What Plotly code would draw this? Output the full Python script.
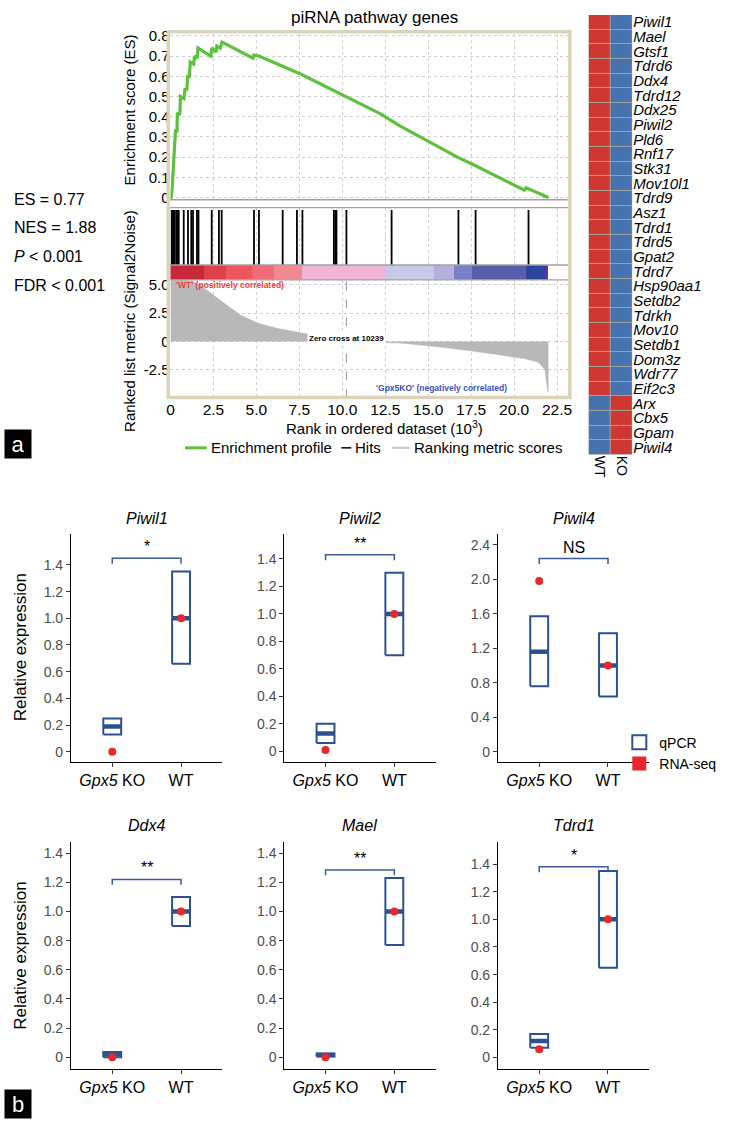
import plotly.graph_objects as go

W, H = 743, 1124
FONT = "Liberation Sans, Arial, sans-serif"

# ---- panel a: GSEA running enrichment score (rank in 10^3) ----
es_rank = [0, 0.04, 0.1, 0.15, 0.19, 0.24, 0.29, 0.38, 0.40, 0.55, 0.58, 0.78, 0.85, 0.95,
           1.0, 1.1, 1.15, 1.35, 1.4, 1.55, 1.6, 2.35, 2.4, 2.65, 2.7, 2.9, 3.0, 4.8, 4.85,
           5.15, 6.4, 7.6, 12.2, 13.35, 16.7, 17.7, 20.6, 20.7, 22.0]
es_score = [0, 0.0, 0.05, 0.14, 0.2, 0.23, 0.33, 0.33, 0.42, 0.41, 0.5, 0.49, 0.54, 0.53,
            0.6, 0.6, 0.67, 0.66, 0.70, 0.69, 0.74, 0.70, 0.74, 0.72, 0.75, 0.74, 0.77, 0.69, 0.705,
            0.70, 0.655, 0.61, 0.415, 0.355, 0.20, 0.16, 0.036, 0.048, 0.0]

hit_rank = [0.06, 0.1, 0.16, 0.2, 0.25, 0.35, 0.42, 0.48, 0.77, 1.02, 1.21, 1.31, 1.54, 1.63,
            2.4, 2.82, 2.98, 4.86, 5.15, 6.53, 7.36, 7.68, 9.51, 9.6, 9.66, 10.24, 12.87,
            16.76, 17.76, 20.84]

# colour band under the hits (segment edges in 10^3)
band_edges = [0, 2.0, 3.26, 4.8, 6.05, 7.68, 12.58, 15.37, 16.52, 17.57, 20.74, 21.8, 22.0]
band_colors = ["#c8283a", "#e0404a", "#ee5560", "#f06a7a", "#f08a90", "#f0b4d4",
               "#c8c8e8", "#b4b0dc", "#7a80c8", "#5a5eaa", "#2c46a0", "#5a3aa0"]

metric_rank = [0, 0.3, 0.8, 1.3, 1.7, 2.0, 2.6, 3.4, 4.1, 5.1, 6.2, 7.6, 8.6, 9.5, 10.24,
               11.5, 12.6, 13.35, 15.3, 16.8, 17.2, 19.1, 20.65, 21.4, 21.8, 21.95, 22.0]
metric_val = [5.35, 5.4, 5.38, 5.3, 5.0, 4.65, 3.9, 3.05, 2.3, 1.6, 1.15, 0.72, 0.45, 0.2, 0.0,
              -0.05, -0.08, -0.15, -0.44, -0.7, -0.78, -1.17, -1.54, -1.83, -2.47, -4.36, -4.5]
zero_cross = 10.239

heat_genes = ["Piwil1", "Mael", "Gtsf1", "Tdrd6", "Ddx4", "Tdrd12", "Ddx25", "Piwil2", "Pld6",
              "Rnf17", "Stk31", "Mov10l1", "Tdrd9", "Asz1", "Tdrd1", "Tdrd5", "Gpat2", "Tdrd7",
              "Hsp90aa1", "Setdb2", "Tdrkh", "Mov10", "Setdb1", "Dom3z", "Wdr77", "Eif2c3",
              "Arx", "Cbx5", "Gpam", "Piwil4"]
heat_wt = [1, 1, 1, 1, 1, 1, 1, 1, 1, 1, 1, 1, 1, 1, 1, 1, 1, 1, 1, 1, 1, 1, 1, 1, 1, 1, 0, 0, 0, 0]
heat_ko = [0, 0, 0, 0, 0, 0, 0, 0, 0, 0, 0, 0, 0, 0, 0, 0, 0, 0, 0, 0, 0, 0, 0, 0, 0, 0, 1, 1, 1, 1]

# ---- panel b: qPCR vs RNA-seq ----
b_genes = ["Piwil1", "Piwil2", "Piwil4", "Ddx4", "Mael", "Tdrd1"]
qpcr_ko_low = [0.13, 0.06, 0.76, 0.00, 0.005, 0.07]
qpcr_ko_mid = [0.19, 0.13, 1.16, 0.02, 0.015, 0.12]
qpcr_ko_high = [0.25, 0.20, 1.57, 0.035, 0.025, 0.17]
qpcr_wt_low = [0.66, 0.70, 0.64, 0.90, 0.77, 0.65]
qpcr_wt_mid = [1.0, 1.0, 1.0, 1.0, 1.0, 1.0]
qpcr_wt_high = [1.35, 1.30, 1.375, 1.10, 1.23, 1.35]
rnaseq_ko = [0.0, 0.01, 1.98, 0.0, 0.0, 0.06]
rnaseq_wt = [1.0, 1.0, 1.0, 1.0, 1.0, 1.0]
sig_label = ["*", "**", "NS", "**", "**", "*"]
bracket_y = [1.45, 1.43, 2.24, 1.22, 1.285, 1.38]
group_labels = ["<i>Gpx5</i> KO", "WT"]


def dom_x(a, b):
    return [a / W, b / W]


def dom_y(top, bottom):
    return [1 - bottom / H, 1 - top / H]


fig = go.Figure()
lay = {}
ann = []

# GSEA x axes (shared range)
gx = dom_x(168.3, 570)
xr = [0, 23.13]
xticks = [0, 2.5, 5, 7.5, 10, 12.5, 15, 17.5, 20, 22.5]
xtext = ["0", "2.5", "5.0", "7.5", "10.0", "12.5", "15.0", "17.5", "20.0", "22.5"]
for i, (top, bot, grid) in enumerate([(27, 195, True), (203, 261, True), (261, 276, False), (276, 396, True)], 1):
    lay[f"xaxis{i}"] = dict(domain=gx, range=xr, anchor=f"y{i}", tickvals=xticks, ticktext=xtext,
                            showticklabels=(i == 4), showgrid=grid, gridcolor="#cfcfcf", griddash="dot",
                            zeroline=False, showline=False, ticks="",
                            tickfont=dict(size=15.5, color="black"))
    lay[f"yaxis{i}"] = dict(domain=dom_y(top, bot), anchor=f"x{i}", showgrid=False, zeroline=False,
                            showticklabels=False, ticks="", range=[0, 1])

lay["yaxis1"].update(range=[-0.011, 0.811], tickvals=[0, 0.1, 0.2, 0.3, 0.4, 0.5, 0.6, 0.7, 0.8],
                     ticktext=["0", "0.1", "0.2", "0.3", "0.4", "0.5", "0.6", "0.7", "0.8"],
                     showticklabels=True, showgrid=True, gridcolor="#cfcfcf", griddash="dot",
                     tickfont=dict(size=15, color="black"))
lay["yaxis4"].update(range=[-5.03, 5.43], tickvals=[-2.5, 0, 2.5, 5], ticktext=["-2.5", "0", "2.5", "5.0"],
                     showticklabels=True, showgrid=True, gridcolor="#cfcfcf", griddash="dot",
                     tickfont=dict(size=15, color="black"))

green = "#5cc23c"
fig.add_trace(go.Scatter(x=es_rank, y=es_score, mode="lines", line=dict(color=green, width=3.2),
                         showlegend=False, xaxis="x1", yaxis="y1"))

hx, hy = [], []
for r in hit_rank:
    hx += [r, r, None]
    hy += [0, 0.96, None]
fig.add_trace(go.Scatter(x=hx, y=hy, mode="lines", line=dict(color="black", width=1.8),
                         showlegend=False, xaxis="x2", yaxis="y2"))

band_mid = [(a + b) / 2 for a, b in zip(band_edges[:-1], band_edges[1:])]
band_w = [b - a for a, b in zip(band_edges[:-1], band_edges[1:])]
fig.add_trace(go.Bar(x=band_mid, y=[1 for _ in band_mid], width=band_w, base=0,
                     marker=dict(color=band_colors, line=dict(width=0)),
                     showlegend=False, xaxis="x3", yaxis="y3"))

fig.add_trace(go.Scatter(x=metric_rank, y=metric_val, mode="lines", fill="tozeroy",
                         fillcolor="#b8b8b8", line=dict(color="#b8b8b8", width=0.5),
                         showlegend=False, xaxis="x4", yaxis="y4"))
fig.add_trace(go.Scatter(x=[zero_cross, zero_cross], y=[-5.03, 5.43], mode="lines",
                         line=dict(color="#9a9a9a", width=1, dash="dash"),
                         showlegend=False, xaxis="x4", yaxis="y4"))

# heatmap
fig.add_trace(go.Heatmap(z=[[w, k] for w, k in zip(heat_wt, heat_ko)], x=[0, 1],
                         y=list(range(len(heat_genes))),
                         colorscale=[[0, "#4673af"], [1, "#cf3733"]], zmin=0, zmax=1,
                         showscale=False, xgap=1, ygap=1, xaxis="x5", yaxis="y5"))
lay["xaxis5"] = dict(domain=dom_x(591, 635), anchor="y5", tickvals=[0, 1], ticktext=["WT", "KO"],
                     tickangle=90, showgrid=False, zeroline=False, ticks="",
                     tickfont=dict(size=14, color="black"), range=[-0.5, 1.5])
lay["yaxis5"] = dict(domain=dom_y(8, 453), anchor="x5", side="right",
                     tickvals=list(range(len(heat_genes))), ticktext=heat_genes,
                     range=[len(heat_genes) - 0.5, -0.5], showgrid=False, zeroline=False, ticks="",
                     tickfont=dict(size=15, color="black", style="italic"))

# panel b subplots
cols = [(67.7, 220.7), (283.3, 436.3), (499.3, 652.3)]
rows = [(533, 764), (845, 1074)]
yranges = [(-0.078, 1.633), (-0.079, 1.583), (-0.12, 2.526),
           (-0.078, 1.475), (-0.078, 1.475), (-0.08, 1.558)]
blue = "#2c5193"
red = "#e8282b"
hw = 0.13
for g in range(6):
    n = g + 6
    r, c = divmod(g, 3)
    lo, hi = yranges[g]
    ppu = (rows[r][1] - rows[r][0]) / (hi - lo)
    if b_genes[g] == "Piwil4":
        tv = [0, 0.4, 0.8, 1.2, 1.6, 2.0, 2.4]
    else:
        tv = [0, 0.2, 0.4, 0.6, 0.8, 1.0, 1.2, 1.4]
    tt = ["0" if v == 0 else f"{v:.1f}" for v in tv]
    lay[f"xaxis{n}"] = dict(domain=dom_x(*cols[c]), anchor=f"y{n}", range=[-0.6, 1.6],
                            tickvals=[0, 1], ticktext=group_labels, showline=True, linecolor="black",
                            linewidth=1, ticks="outside", ticklen=4, tickcolor="#333",
                            showgrid=False, zeroline=False, tickfont=dict(size=16, color="black"))
    lay[f"yaxis{n}"] = dict(domain=dom_y(*rows[r]), anchor=f"x{n}", range=[lo, hi], tickvals=tv,
                            ticktext=tt, showline=True, linecolor="black", linewidth=1,
                            ticks="outside", ticklen=4, tickcolor="#333", showgrid=False,
                            zeroline=False, tickfont=dict(size=14, color="#4d4d4d"))
    xa, ya = f"x{n}", f"y{n}"
    for xc, l, m, h in [(0, qpcr_ko_low[g], qpcr_ko_mid[g], qpcr_ko_high[g]),
                        (1, qpcr_wt_low[g], qpcr_wt_mid[g], qpcr_wt_high[g])]:
        fig.add_trace(go.Scatter(x=[xc - hw, xc + hw, xc + hw, xc - hw, xc - hw], y=[l, l, h, h, l],
                                 mode="lines", line=dict(color=blue, width=2), fill="toself",
                                 fillcolor="white", showlegend=False, xaxis=xa, yaxis=ya))
        fig.add_trace(go.Scatter(x=[xc - hw, xc + hw], y=[m, m], mode="lines",
                                 line=dict(color=blue, width=4.5), showlegend=False, xaxis=xa, yaxis=ya))
    fig.add_trace(go.Scatter(x=[0, 1], y=[rnaseq_ko[g], rnaseq_wt[g]], mode="markers",
                             marker=dict(color=red, size=8), showlegend=False, xaxis=xa, yaxis=ya))
    tick = 5.5 / ppu
    b = bracket_y[g]
    fig.add_trace(go.Scatter(x=[0, 0, 1, 1], y=[b - tick, b, b, b - tick], mode="lines",
                             line=dict(color="#3b5a9a", width=1.5), showlegend=False, xaxis=xa, yaxis=ya))
    ann.append(dict(x=0.5, y=b, xref=xa, yref=ya, text=sig_label[g], yanchor="bottom",
                    yshift=1, font=dict(size=16, color="black")))
    ann.append(dict(x=(cols[c][0] + cols[c][1]) / 2 / W, y=1 - (517 if r == 0 else 828) / H,
                    text=f"<i>{b_genes[g]}</i>", font=dict(size=16, color="black")))

fig.add_trace(go.Scatter(x=[None], y=[None], mode="markers", name="qPCR", xaxis="x6", yaxis="y6",
                         marker=dict(symbol="square-open", size=14, color=blue, line=dict(width=2)),
                         legend="legend2"))
fig.add_trace(go.Scatter(x=[None], y=[None], mode="markers", name="RNA-seq", xaxis="x6", yaxis="y6",
                         marker=dict(symbol="square", size=14, color=red), legend="legend2"))

ann += [
    dict(x=375 / W, y=1 - 11 / H, text="piRNA pathway genes", font=dict(size=17, color="black")),
    dict(x=127 / W, y=1 - 104 / H, text="Enrichment score (ES)", textangle=-90,
         font=dict(size=15, color="black")),
    dict(x=127 / W, y=1 - 318 / H, text="Ranked list metric (Signal2Noise)", textangle=-90,
         font=dict(size=15, color="black")),
    dict(x=385 / W, y=1 - 425 / H, text="Rank in ordered dataset (10<sup>3</sup>)",
         font=dict(size=15, color="black")),
    dict(x=0.2, y=4.93, xref="x4", yref="y4", xanchor="left", text="<b>'WT' (positively correlated)</b>",
         font=dict(size=8.5, color="#f03c3c")),
    dict(x=zero_cross, y=0.25, xref="x4", yref="y4", text="<b>Zero cross at 10239</b>",
         bgcolor="white", font=dict(size=8, color="black")),
    dict(x=19.68, y=-4.15, xref="x4", yref="y4", xanchor="right",
         text="<b>'Gpx5KO' (negatively correlated)</b>", font=dict(size=8.5, color="#3c50c0")),
    dict(x=8 / W, y=1 - 195 / H, xanchor="left", text="ES = 0.77", font=dict(size=16, color="black")),
    dict(x=8 / W, y=1 - 223 / H, xanchor="left", text="NES = 1.88", font=dict(size=16, color="black")),
    dict(x=8 / W, y=1 - 252 / H, xanchor="left", text="<i>P</i> < 0.001", font=dict(size=16, color="black")),
    dict(x=8 / W, y=1 - 282 / H, xanchor="left", text="FDR < 0.001", font=dict(size=16, color="black")),
    dict(x=17 / W, y=1 - 648 / H, text="Relative expression", textangle=-90,
         font=dict(size=17, color="black")),
    dict(x=17 / W, y=1 - 960 / H, text="Relative expression", textangle=-90,
         font=dict(size=17, color="black")),
    dict(x=0, y=1 - 442 / H, xanchor="left", text="a", bgcolor="black", width=24, height=26,
         font=dict(size=22, color="white")),
    dict(x=0, y=1 - 1110 / H, xanchor="left", text="b", bgcolor="black", width=24, height=26,
         font=dict(size=22, color="white")),
]

# legend of panel a: keys drawn as short lines, labels as text
leg_y = 446
leg_items = [("Enrichment profile", green, 3, 183, 205), ("Hits", "black", 1.5, 341, 351),
             ("Ranking metric scores", "#c8c8c8", 2, 392, 410)]
shapes = []
for name, colr, lw, x0, x1 in leg_items:
    shapes.append(dict(type="line", xref="paper", yref="paper", x0=x0 / W, x1=x1 / W,
                       y0=1 - leg_y / H, y1=1 - leg_y / H, line=dict(color=colr, width=lw)))
    ann.append(dict(x=(x1 + 2) / W, y=1 - leg_y / H, xanchor="left", text=name,
                    font=dict(size=15, color="black")))

for a in ann:
    a.setdefault("xref", "paper")
    a.setdefault("yref", "paper")
    a.setdefault("xanchor", "center")
    a.setdefault("yanchor", "middle")
    a.setdefault("showarrow", False)
lay["annotations"] = ann

# frame and separator lines of the GSEA plot
shapes.append(dict(type="rect", xref="paper", yref="paper", x0=166 / W, x1=572 / W, y0=1 - 395 / H,
                   y1=1 - 25 / H, line=dict(color="#d9d4bb", width=3.5)))
for yy in [195, 203, 261, 276]:
    shapes.append(dict(type="line", xref="paper", yref="paper", x0=168 / W, x1=570 / W,
                       y0=1 - yy / H, y1=1 - yy / H, line=dict(color="#a0a0a0", width=1.3)))
shapes.append(dict(type="rect", xref="x5 domain", yref="y5 domain", x0=0, x1=1, y0=0, y1=1,
                   fillcolor="#a8a39a", line=dict(width=0), layer="below"))

fig.update_layout(
    **lay,
    shapes=shapes,
    width=W, height=H,
    margin=dict(l=0, r=0, t=0, b=0),
    paper_bgcolor="white", plot_bgcolor="white",
    font=dict(family=FONT, color="black"),
    bargap=0,
    legend2=dict(orientation="v", x=622 / W, y=1 - 755 / H, yanchor="middle", xanchor="left",
                 font=dict(size=14), bgcolor="rgba(0,0,0,0)", itemwidth=30),
)

fig.write_html("out.html", config={"displayModeBar": False},
               post_script="document.body.style.margin='0';")
